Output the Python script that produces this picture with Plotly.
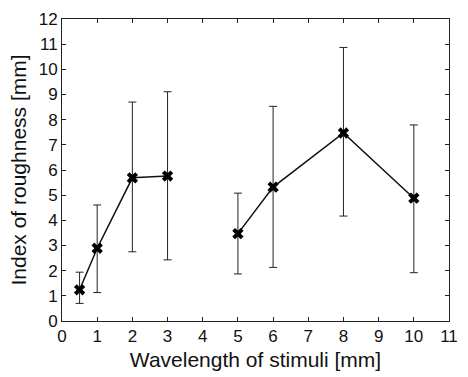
import plotly.graph_objects as go

wavelength = [0.5, 1, 2, 3, 5, 6, 8, 10]
roughness = [1.24, 2.89, 5.69, 5.76, 3.47, 5.32, 7.47, 4.88]
upper = [1.94, 4.61, 8.70, 9.11, 5.08, 8.53, 10.87, 7.79]
lower = [0.70, 1.13, 2.75, 2.43, 1.87, 2.13, 4.17, 1.92]
group = ["a", "a", "a", "a", "b", "b", "b", "b"]

x_ticks = list(range(0, 12))
y_ticks = list(range(0, 13))

fig = go.Figure()
for g in ["a", "b"]:
    idx = [i for i, v in enumerate(group) if v == g]
    xs = [wavelength[i] for i in idx]
    ys = [roughness[i] for i in idx]
    ep = [upper[i] - roughness[i] for i in idx]
    em = [roughness[i] - lower[i] for i in idx]
    fig.add_trace(go.Scatter(
        x=xs, y=ys, mode="lines+markers",
        line=dict(color="#111111", width=1.5),
        marker=dict(symbol="x", size=10, color="#000000", line=dict(width=0)),
        error_y=dict(type="data", symmetric=False, array=ep, arrayminus=em,
                     color="#222222", thickness=1, width=4),
        showlegend=False,
    ))

FONT = "Liberation Sans, Arial, sans-serif"
axis_common = dict(
    showgrid=False, zeroline=False, showline=True, linecolor="#222222",
    linewidth=1, mirror="ticks", ticks="inside", ticklen=4, tickcolor="#222222",
    tickfont=dict(family=FONT, size=17, color="#111111"),
)

fig.update_xaxes(range=[0, 11], tickvals=x_ticks, ticktext=[str(v) for v in x_ticks],
                 title=dict(text="Wavelength of stimuli [mm]", standoff=6,
                            font=dict(family=FONT, size=21, color="#111111")),
                 **axis_common)
fig.update_yaxes(range=[0, 12], tickvals=y_ticks, ticktext=[str(v) for v in y_ticks],
                 title=dict(text="Index of roughness [mm]", standoff=6,
                            font=dict(family=FONT, size=21, color="#111111")),
                 **axis_common)

fig.update_layout(
    width=468, height=377,
    margin=dict(l=62, r=10, t=14, b=53),
    paper_bgcolor="white", plot_bgcolor="white",
)

fig.write_html("out.html")
